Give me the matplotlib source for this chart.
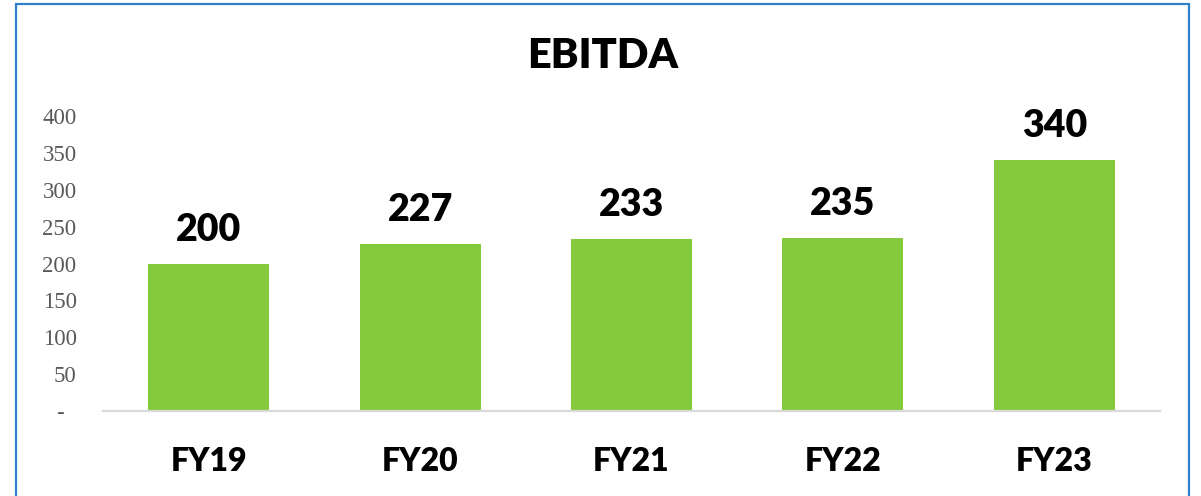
import matplotlib
matplotlib.use("Agg")
import matplotlib.pyplot as plt
from matplotlib.patches import Rectangle
from matplotlib.ticker import FuncFormatter

categories = ["FY19", "FY20", "FY21", "FY22", "FY23"]
ebitda = [200, 227, 233, 235, 340]
y_ticks = [0, 50, 100, 150, 200, 250, 300, 350, 400]

W, H = 1201, 496
fig = plt.figure(figsize=(W / 100, H / 100), dpi=100)
fig.patch.set_facecolor("white")

# outer blue frame
fig.patches.append(Rectangle((16 / W, -0.05), (1189 - 16) / W, 1.05 - 4 / H,
                             transform=fig.transFigure, fill=False,
                             edgecolor="#2F7FCC", linewidth=1.6, zorder=0))

left, right = 103 / W, 1160 / W
bottom, top = 1 - 411 / H, 1 - 116 / H
ax = fig.add_axes([left, bottom, right - left, top - bottom])

x = range(len(categories))
bars = ax.bar(x, ebitda, width=0.572, color="#84CA3C", zorder=2)
ax.set_xlim(-0.5, len(categories) - 0.5)
ax.set_ylim(0, 400)
ax.set_yticks(y_ticks)
ax.yaxis.set_major_formatter(FuncFormatter(lambda v, p: "-  " if v == 0 else f"{int(v)}"))
for lab in ax.get_yticklabels():
    lab.set_family("Liberation Serif")
    lab.set_fontsize(16.5)
    lab.set_color("#595959")
ax.tick_params(axis="y", length=0, pad=19)

ax.set_xticks(list(x))
ax.set_xticklabels(categories, family="Lato", fontweight="heavy", fontsize=23, color="black")
ax.tick_params(axis="x", length=0, pad=26)

for s in ["top", "right", "left"]:
    ax.spines[s].set_visible(False)
ax.spines["bottom"].set_color("#D9D9D9")
ax.spines["bottom"].set_linewidth(1.6)

for xi, v in zip(x, ebitda):
    ax.annotate(f"{v}", (xi, v), xytext=(0, 16.5), textcoords="offset points",
                ha="center", va="baseline", family="Lato", fontweight="heavy",
                fontsize=27, color="black")

fig.text(603 / W, 1 - 68 / H, "EBITDA", ha="center", va="baseline",
         family="Lato", fontweight="heavy", fontsize=30, color="black")

fig.savefig("out.png", dpi=100, facecolor="white")
